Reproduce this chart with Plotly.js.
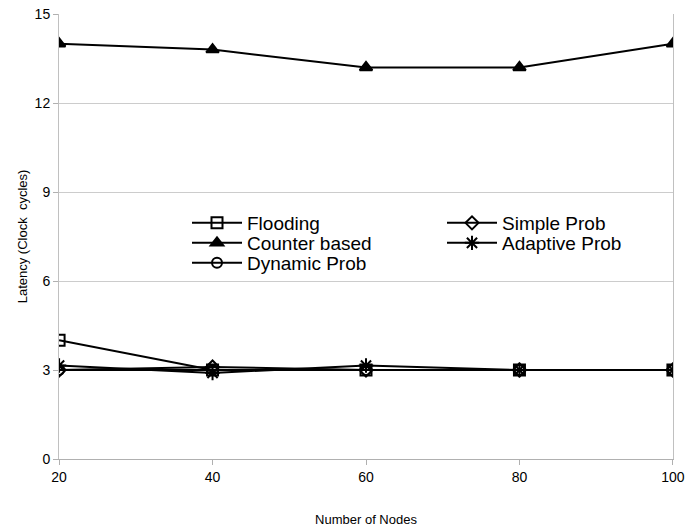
<!DOCTYPE html>
<html>
<head>
<meta charset="utf-8">
<script src="https://cdn.plot.ly/plotly-3.0.1.min.js"></script>
<style>html,body{margin:0;padding:0;background:#fff}#chart{width:688px;height:529px}</style>
</head>
<body>
<div id="chart"></div>
<script>
const nodes = [20, 40, 60, 80, 100];
const flooding = [4, 3, 3, 3, 3];
const simpleProb = [3, 3.1, 3, 3, 3];
const counterBased = [14, 13.8, 13.2, 13.2, 14];
const adaptiveProb = [3.15, 2.9, 3.15, 3, 3];
const dynamicProb = [3, 3, 3, 3, 3];
const yTicks = [0, 3, 6, 9, 12, 15];

function tr(name, y, symbol, size, leg) {
  return {
    x: nodes, y: y, name: name, type: 'scatter', mode: 'lines+markers', legend: leg,
    line: {color: '#000', width: 2},
    marker: {symbol: symbol, size: size, color: '#000', line: {color: '#000', width: 2}}
  };
}
const data = [
  tr('Flooding', flooding, 'square-open', 11, 'legend'),
  tr('Simple Prob', simpleProb, 'diamond-open', 10, 'legend2'),
  tr('Counter based', counterBased, 'triangle-up', 11, 'legend3'),
  tr('Adaptive Prob', adaptiveProb, 'asterisk-open', 12, 'legend4'),
  tr('Dynamic Prob', dynamicProb, 'circle-open', 10, 'legend5')
];
const font = 'Liberation Sans, Arial, sans-serif';
// plot area: x 59..673 (614 px), y 14..459 (445 px)
function leg(px, py) {
  return {
    x: (px - 59) / 614, y: (459 - py) / 445, xanchor: 'left', yanchor: 'middle', itemwidth: 50,
    font: {family: font, size: 19, color: '#000'},
    bgcolor: 'rgba(0,0,0,0)'
  };
}
const layout = {
  width: 688, height: 529,
  margin: {l: 59, r: 15, t: 14, b: 70},
  paper_bgcolor: '#fff', plot_bgcolor: '#fff',
  font: {family: font, color: '#000', size: 14},
  showlegend: true,
  legend: leg(187, 223),
  legend2: leg(442, 223),
  legend3: leg(187, 243),
  legend4: leg(442, 243),
  legend5: leg(187, 263),
  xaxis: {
    range: [19.99, 100.01], tickvals: nodes, ticktext: nodes.map(String),
    showgrid: false, zeroline: false,
    showline: true, linecolor: '#b0b0b0', linewidth: 1,
    ticks: 'outside', ticklen: 5, tickcolor: '#b0b0b0',
    ticklabeloverflow: 'allow', automargin: false,
    tickfont: {size: 14, color: '#000'},
    title: {text: 'Number of Nodes', font: {size: 13}, standoff: 31}
  },
  yaxis: {
    range: [0, 15], tickvals: yTicks, ticktext: yTicks.map(String),
    showgrid: true, gridcolor: '#cccccc', gridwidth: 1, zeroline: false,
    showline: true, mirror: true, linecolor: '#c0c0c0', linewidth: 1,
    ticks: 'outside', ticklen: 5, tickcolor: '#b0b0b0',
    tickfont: {size: 14, color: '#000'},
    title: {text: 'Latency (Clock  cycles)', font: {size: 13}, standoff: 4}
  }
};
Plotly.newPlot('chart', data, layout, {staticPlot: true, displayModeBar: false});
</script>
</body>
</html>
